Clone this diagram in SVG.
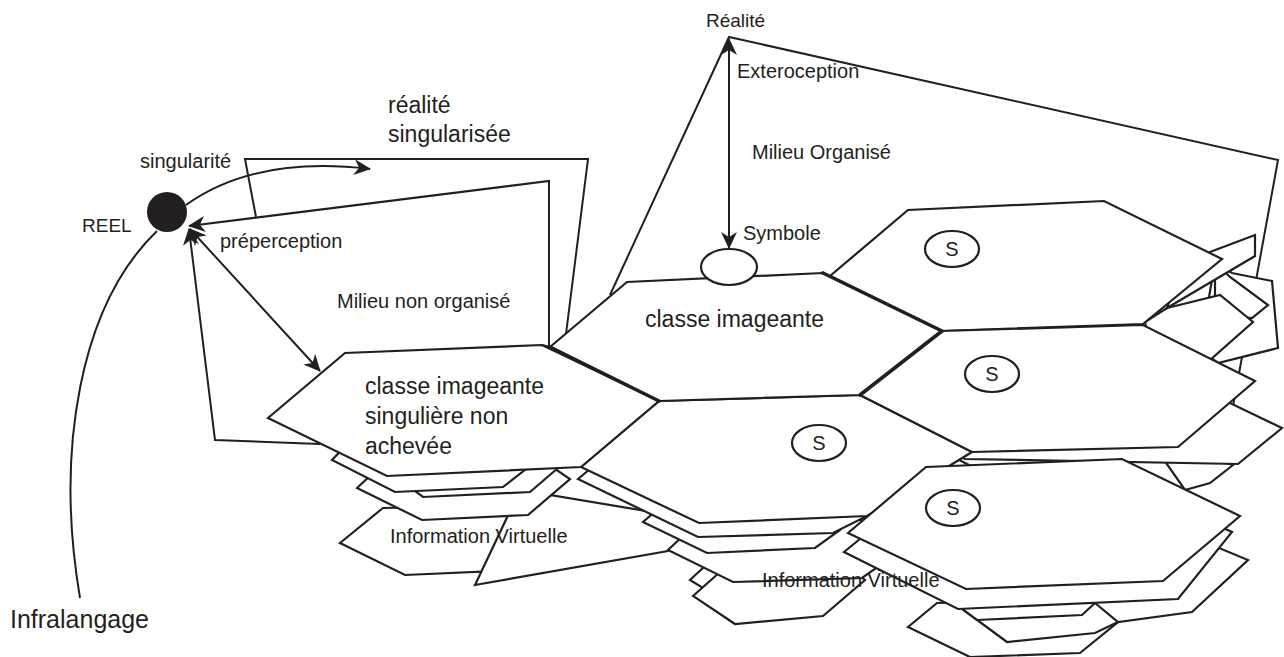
<svg xmlns="http://www.w3.org/2000/svg" width="1284" height="657" viewBox="0 0 1284 657">
<style>
.ln{fill:none;stroke:#231f20;stroke-width:2;stroke-linejoin:miter}
.hx{fill:#fff;stroke:#231f20;stroke-width:2.2;stroke-linejoin:miter}
.thk{fill:none;stroke:#231f20;stroke-width:3.6;stroke-linecap:round}
.t{font-family:"Liberation Sans",Arial,sans-serif;fill:#231f20}
.s{font-size:20px}
.b{font-size:23px}
</style>
<defs>
<marker id="ah" viewBox="0 0 17 16" refX="16" refY="8" markerWidth="17" markerHeight="16" markerUnits="userSpaceOnUse" orient="auto-start-reverse">
<path d="M0,0 L17,8 L0,16 L5,8 z" fill="#231f20"/>
</marker>
</defs>
<rect width="1284" height="657" fill="#fff"/>
<g id="connectors">
<polyline class="ln" points="610,295 729,37 1278,160 1225,450"/>
<polyline class="ln" points="256,217 245,159 588,159 566,334"/>
<polyline class="ln" points="549,347 549,181 189,226" marker-end="url(#ah)"/>
<polyline class="ln" points="320,444 215,440 189,229" marker-end="url(#ah)"/>
<line class="ln" x1="320" y1="371" x2="190" y2="229" marker-start="url(#ah)" marker-end="url(#ah)"/>
<path class="ln" d="M186,205 C240,166 310,162 370,169" marker-end="url(#ah)"/>
<path class="ln" d="M157,231 C80,305 55,450 80,598"/>
<line class="ln" x1="729" y1="39" x2="729" y2="248" marker-start="url(#ah)" marker-end="url(#ah)"/>
</g>
<g id="stack-left">
<polygon class="hx" points="340,543 383,508 540,505 560,540 520,570 405,575"/>
<polygon class="hx" points="475,585 668,551 700,520 520,490"/>
</g>
<g id="stack-center">
<polygon class="hx" points="690,580 705,566 850,560 860,575 830,590 703,588"/>
<polygon class="hx" points="693,596 720,572 850,568 865,580 823,616 735,624"/>
<polygon class="hx" points="668,550 700,520 880,520 905,548 862,578 733,582"/>
<polygon class="hx" points="643,522 680,490 860,490 840,530 815,548 707,553"/>
<polygon class="hx" points="578,479 656,414 852,405 969,465 833,533 698,537"/>
</g>
<g id="stack-left-top">
<polygon class="hx" points="357,488 385,462 545,462 570,479 528,515 422,520"/>
<polygon class="hx" points="400,480 420,445 550,445 565,462 530,492 423,497"/>
<polygon class="hx" points="332,460 370,420 560,420 535,462 503,487 395,492"/>
</g>
<g id="stack-h3">
<polygon class="hx" points="1215,262 1232,273 1272,281 1278,348 1218,363 1200,350"/>
<polygon class="hx" points="1215,262 1230,277 1268,305 1252,318 1215,315"/>
<polygon class="hx" points="1167,308 1220,295 1253,322 1210,360 1150,345 1145,322"/>
<polygon class="hx" points="1167,308 1180,270 1210,252 1255,235 1255,256"/>
</g>
<g id="stack-h4">
<polygon class="hx" points="1150,440 1233,465 1210,483 1185,490"/>
<polygon class="hx" points="900,430 1000,400 1230,403 1282,428 1238,464 965,459"/>
</g>
<g id="stack-h5">
<polygon class="hx" points="908,627 937,603 1060,600 1118,622 1080,653 970,657"/>
<polygon class="hx" points="950,600 990,590 1100,590 1118,622 1095,633 1007,642"/>
<polygon class="hx" points="950,600 990,585 1090,585 1095,603 1082,615 977,620"/>
<polygon class="hx" points="880,570 940,520 1140,515 1248,560 1192,612 1118,622 1095,603"/>
<polygon class="hx" points="844,552 920,490 1120,482 1232,532 1178,599 958,609"/>
</g>
<g id="h6"><polygon class="hx" points="581,467 659,401 860,395 972,452 867,516 699,523"/>
<ellipse class="hx" cx="819" cy="443" rx="27" ry="18"/><text class="t s" x="819" y="450" text-anchor="middle">S</text></g>
<g id="h1"><polygon class="hx" points="268,418 345,353 542,345 659,401 581,467 387,476"/>
<text class="t b" x="365" y="394">classe imageante</text>
<text class="t b" x="365" y="424">singulière non</text>
<text class="t b" x="365" y="454">achevée</text></g>
<g id="h3"><polygon class="hx" points="830,276 908,210 1104,201 1222,259 1143,324 942,331"/>
<ellipse class="hx" cx="952" cy="249" rx="27" ry="18"/><text class="t s" x="952" y="256" text-anchor="middle">S</text></g>
<g id="h4"><polygon class="hx" points="860,395 942,331 1143,325 1255,381 1178,447 972,452"/>
<ellipse class="hx" cx="992" cy="374" rx="27" ry="18"/><text class="t s" x="992" y="381" text-anchor="middle">S</text></g>
<g id="h5"><polygon class="hx" points="848,533 926,467 1122,459 1240,516 1163,581 966,589"/>
<ellipse class="hx" cx="953" cy="508" rx="27" ry="18"/><text class="t s" x="953" y="515" text-anchor="middle">S</text></g>
<g id="h2"><polygon class="hx" points="550,347 627,282 823,273 942,331 860,395 659,401"/>
<polyline class="thk" points="550,347 659,401"/>
<polyline class="thk" points="823,273 942,331 860,395"/>
<line class="ln" x1="542" y1="345" x2="550" y2="347"/>
<text class="t b" x="645" y="327">classe imageante</text></g>
<g id="symbole"><ellipse class="hx" cx="729" cy="267" rx="28" ry="18"/>
<text class="t s" x="743" y="240">Symbole</text></g>
<g id="reel"><circle cx="167" cy="212" r="20" fill="#231f20"/>
<text class="t" style="font-size:19px" x="82" y="232">REEL</text></g>
<g id="labels">
<text class="t" style="font-size:19px" x="706" y="27">Réalité</text>
<text class="t s" x="737" y="78">Exteroception</text>
<text class="t s" x="752" y="159">Milieu Organisé</text>
<text class="t b" x="388" y="113">réalité</text>
<text class="t b" x="388" y="142">singularisée</text>
<text class="t s" x="140" y="168">singularité</text>
<text class="t s" x="220" y="248">préperception</text>
<text class="t s" x="337" y="308">Milieu non organisé</text>
<text class="t s" x="390" y="543">Information Virtuelle</text>
<text class="t s" x="762" y="587">Information Virtuelle</text>
<text class="t" style="font-size:25px" x="10" y="628">Infralangage</text>
</g>
</svg>
